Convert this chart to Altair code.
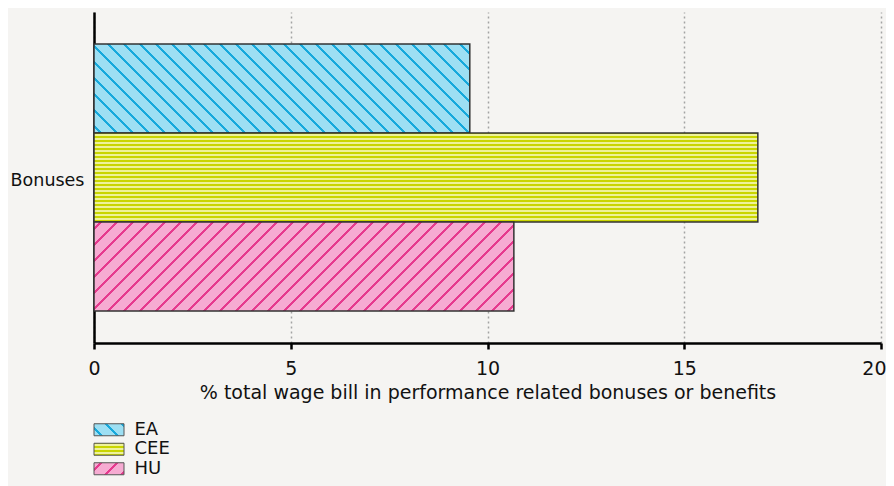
import math
import altair as alt
import pandas as pd

# ---- data ----
categories = ["Bonuses"]
series = ["EA", "CEE", "HU"]
values = [9.55, 16.87, 10.67]
x_ticks = [0, 5, 10, 15, 20]
x_title = "% total wage bill in performance related bonuses or benefits"

# ---- styles ----
base_colors = {"EA": "#9ddff3", "CEE": "#c9d500", "HU": "#f6abd2"}
stripe_colors = {"EA": "#17a9dc", "CEE": "#eef29a", "HU": "#e63a8e"}
hatch_kind = {"EA": "back", "CEE": "horiz", "HU": "fwd"}

W, H = 787, 331
X_MAX = 20
PAD_OUTER = 0.12
FONT = "DejaVu Sans"
BG = "#f5f4f2"
FS = 18


def stripe_stops(L, period, thick, base, stripe, phase=0.0):
    stops = [{"offset": 0, "color": base}]
    a = phase
    while a < L:
        b = min(a + thick, L)
        o1, o2 = round(a / L, 5), round(b / L, 5)
        stops += [
            {"offset": o1, "color": base},
            {"offset": o1, "color": stripe},
            {"offset": o2, "color": stripe},
            {"offset": o2, "color": base},
        ]
        a += period
    stops.append({"offset": 1, "color": base})
    return stops


def hatch_fill(kind, w, h, base, stripe, diag_period=16.0, horiz_period=4.0):
    if kind == "horiz":
        return {"gradient": "linear", "x1": 0, "y1": 0, "x2": 0, "y2": 1,
                "stops": stripe_stops(h, horiz_period, horiz_period / 2, base, stripe, 1.0)}
    k = (w + h) / (w * w + h * h)
    if kind == "back":
        x1, y1, x2, y2 = 0, 1, w * k, 1 - h * k
    else:
        x1, y1, x2, y2 = 0, 0, w * k, h * k
    return {"gradient": "linear", "x1": x1, "y1": y1, "x2": x2, "y2": y2,
            "stops": stripe_stops(w + h, diag_period, 2.0 * math.sqrt(2), base, stripe, 6.0)}


df = pd.DataFrame({
    "category": categories * len(series),
    "series": series,
    "value": values,
})

bar_h = H / (1 + 2 * PAD_OUTER) / len(series)
last_tick = x_ticks[-1]

base = alt.Chart(df).encode(
    x=alt.X("value:Q",
            scale=alt.Scale(domain=[0, X_MAX], nice=False, zero=True),
            axis=alt.Axis(values=x_ticks, grid=True, gridDash=[2, 3], gridColor="#a3a3a3",
                          gridWidth=1.5, domainColor="#000000", domainWidth=2.5,
                          tickColor="#000000", tickWidth=2.5, tickSize=6,
                          labelFlush=False, labelOverlap=False,
                          labelAlign={"condition": {"test": f"datum.value == {last_tick}", "value": "right"},
                                      "value": "center"},
                          labelOffset={"condition": {"test": f"datum.value == {last_tick}", "value": 5},
                                       "value": 0},
                          labelPadding=10, titlePadding=5, labelFont=FONT, titleFont=FONT,
                          labelFontSize=19, titleFontSize=19, titleFontWeight="normal",
                          labelColor="#111111", titleColor="#111111"),
            title=x_title),
    y=alt.Y("category:N",
            scale=alt.Scale(paddingInner=0, paddingOuter=PAD_OUTER),
            axis=alt.Axis(grid=False, ticks=False, domainColor="#000000", domainWidth=2.5,
                          labelPadding=10, labelOffset=3, labelFont=FONT, labelFontSize=17.5,
                          labelColor="#111111"),
            title=None),
    yOffset=alt.YOffset("series:N", scale=alt.Scale(domain=series, paddingInner=0, paddingOuter=0)),
)

layers = []
for s, v in zip(series, values):
    w = v / X_MAX * W
    fill = hatch_fill(hatch_kind[s], w, bar_h, base_colors[s], stripe_colors[s])
    layers.append(
        base.transform_filter(alt.datum.series == s)
        .mark_bar(fill=fill, stroke="#333333", strokeWidth=1.5)
    )

main = alt.layer(*layers).properties(width=W, height=H)

# ---- custom legend with hatched swatches ----
SW, SH = 30, 12
LEG_STEP = 19.5
leg_df = pd.DataFrame({"series": series})
leg_base = alt.Chart(leg_df).encode(
    y=alt.Y("series:N", sort=series,
            scale=alt.Scale(domain=series, paddingInner=1 - SH / LEG_STEP,
                            paddingOuter=(1 - SH / LEG_STEP) / 2),
            axis=alt.Axis(orient="right", domain=False, ticks=False, grid=False,
                          labelPadding=10, labelFont=FONT, labelFontSize=FS,
                          labelColor="#111111", labelAlign="left"),
            title=None)
)
leg_layers = []
for s in series:
    fill = hatch_fill(hatch_kind[s], SW, SH, base_colors[s], stripe_colors[s])
    leg_layers.append(
        leg_base.transform_filter(alt.datum.series == s)
        .mark_rect(fill=fill, stroke="#555555", strokeWidth=1)
    )
legend = alt.layer(*leg_layers).properties(width=SW, height=LEG_STEP * len(series))

chart = (
    alt.vconcat(main, legend, spacing=18)
    .properties(background=BG, padding={"left": 2, "top": 4, "right": 0, "bottom": 10})
    .configure_view(stroke=None)
)

chart.save("out.html", embed_options={"renderer": "svg", "actions": False})
